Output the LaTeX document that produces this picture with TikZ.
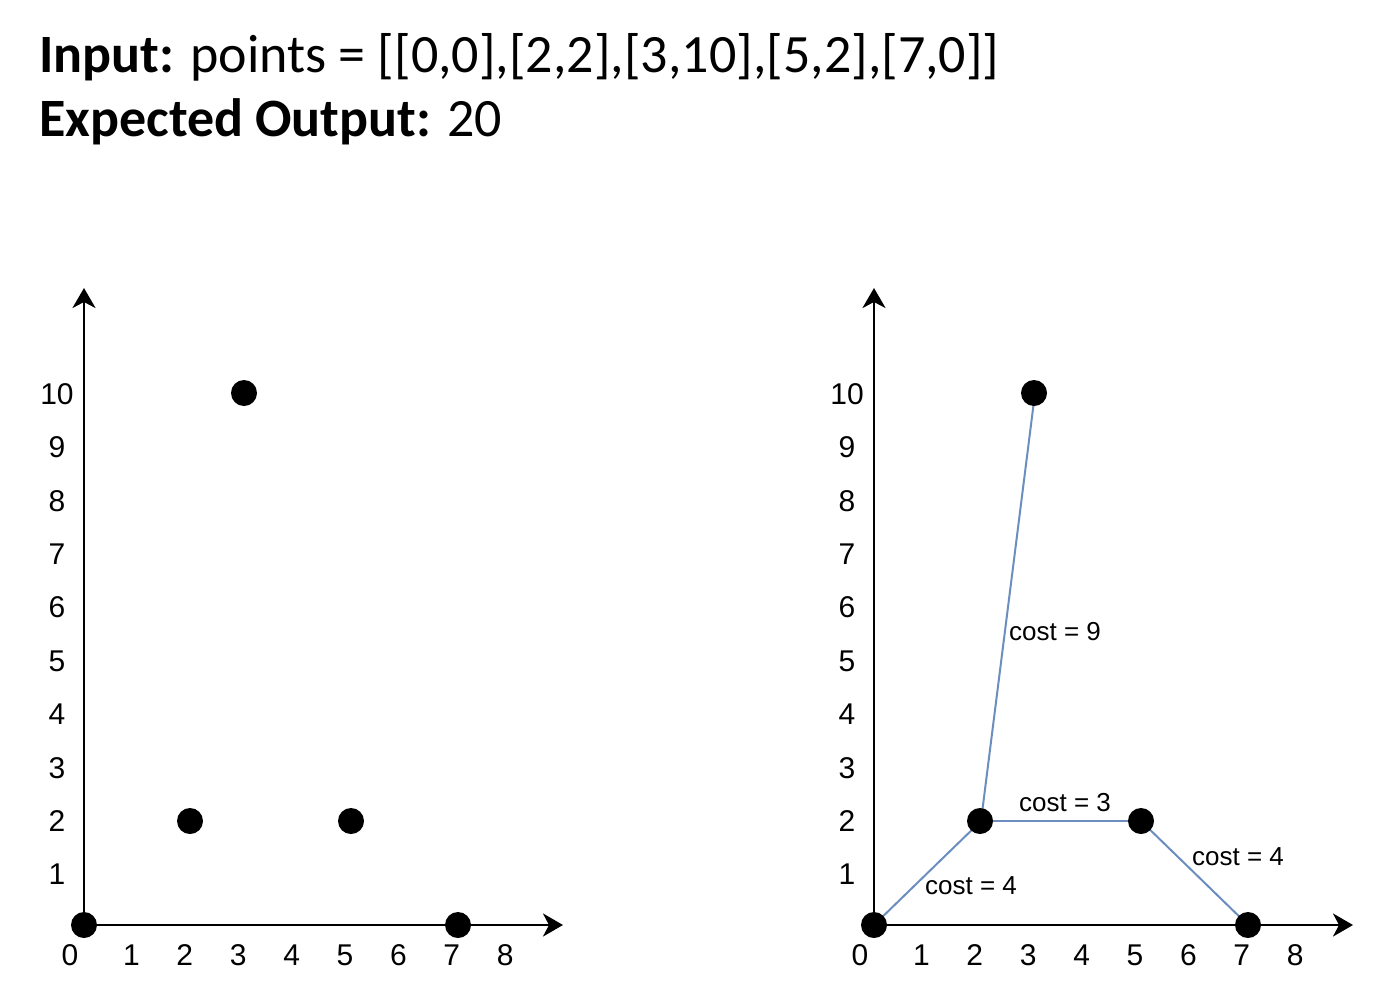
\documentclass[tikz,border=0pt]{standalone}
\usepackage{fontspec}
\setmainfont{Carlito}
\newfontfamily\axfont{Liberation Sans}
\usetikzlibrary{arrows.meta}
\definecolor{edgeblue}{HTML}{6C8EBF}
\begin{document}
\begin{tikzpicture}[x=1pt,y=-1pt,
  axis/.style={line width=2.6pt, -{Stealth[length=20pt,width=23pt,inset=6pt]}},
  dot/.style={circle, fill=black, inner sep=0pt, minimum size=26pt},
  ticklab/.style={font=\axfont\fontsize{30}{30}\selectfont, inner sep=0pt, anchor=center},
  edge/.style={draw=edgeblue, line width=2pt},
  cost/.style={font=\axfont\fontsize{26}{26}\selectfont, inner sep=0pt, anchor=center},
  title/.style={font=\fontsize{54}{54}\selectfont, anchor=base west, inner sep=0pt}]
\useasboundingbox (0,0) rectangle (1386,1004);
\fill[white] (0,0) rectangle (1386,1004);

\node[title] (t1) at (39,72.5) {\textbf{Input:} points = [[0,0],[2,2],[3,10],[5,2],[7,0]]};
\node[title] (t2) at (39,136.5) {\textbf{Expected Output:} 20};

\foreach \ox/\p in {0/L,790/R} {
  \coordinate (\p o) at (84+\ox,925);
  \coordinate (\p ytip) at (84+\ox,288);
  \coordinate (\p xtip) at (563+\ox,925);
  \draw[axis] (\p o) -- (\p ytip);
  \draw[axis] (\p o) -- (\p xtip);
  \node[ticklab] (\p x0) at (70+\ox,955) {0};
  \foreach \k in {1,...,8} {
    \node[ticklab] (\p x\k) at ({78+53.4*\k+\ox},955) {\k};
  }
  \foreach \k in {1,...,10} {
    \node[ticklab] (\p y\k) at (57+\ox,{928-53.4*\k}) {\k};
  }
}

% edges on right plot (drawn below dots)
\coordinate (c0) at (874,925);
\coordinate (c1) at (981,821);
\coordinate (c2) at (1035,393);
\coordinate (c3) at (1141,821);
\coordinate (c4) at (1248,925);
\draw[edge] (c0) -- (c1);
\draw[edge] (c1) -- (c2);
\draw[edge] (c1) -- (c3);
\draw[edge] (c3) -- (c4);

\foreach \ox/\p in {0/L,790/R} {
  \node[dot] (\p p1) at (84+\ox,925) {};
  \node[dot] (\p p2) at (190+\ox,821) {};
  \node[dot] (\p p3) at (244+\ox,393) {};
  \node[dot] (\p p4) at (351+\ox,821) {};
  \node[dot] (\p p5) at (458+\ox,925) {};
}

\node[cost] (k9) at (1055,632) {cost = 9};
\node[cost] (k3) at (1065,803) {cost = 3};
\node[cost] (k4a) at (971,886) {cost = 4};
\node[cost] (k4b) at (1238,857) {cost = 4};
\end{tikzpicture}
\end{document}
